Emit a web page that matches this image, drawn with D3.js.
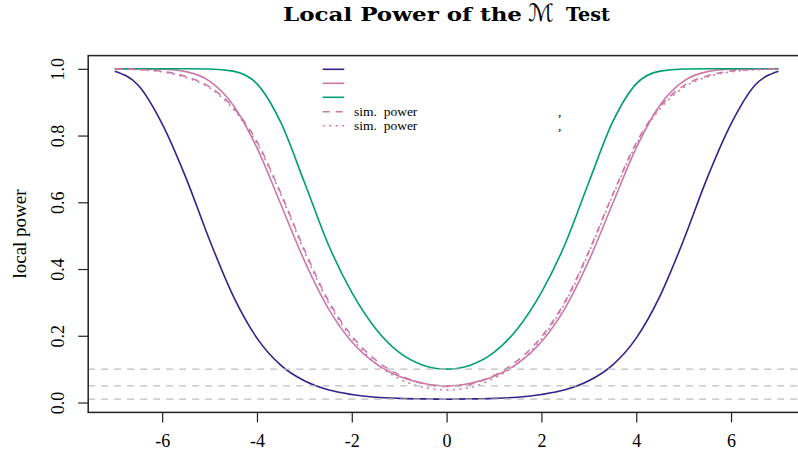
<!DOCTYPE html>
<html><head><meta charset="utf-8">
<script src="https://cdn.jsdelivr.net/npm/d3@7"></script>
<style>body{margin:0;background:#fff} svg{display:block}</style>
</head><body><svg id="c" width="798" height="452"></svg>
<script>
// ---------- data ----------
const xGrid = [-7, -6.5, -6, -5.5, -5, -4.5, -4, -3.5, -3, -2.5, -2, -1.5, -1, -0.5, 0,
               0.5, 1, 1.5, 2, 2.5, 3, 3.5, 4, 4.5, 5, 5.5, 6, 6.5, 7];
const powerLevel01 = [0.993, 0.950, 0.835, 0.674, 0.487, 0.319, 0.193, 0.112, 0.065, 0.038, 0.024, 0.016, 0.0125, 0.0108, 0.010,
                      0.0108, 0.0125, 0.016, 0.024, 0.038, 0.065, 0.112, 0.193, 0.319, 0.487, 0.674, 0.835, 0.950, 0.993];
const powerLevel05 = [1.000, 0.9999, 0.9988, 0.9916, 0.963, 0.891, 0.763, 0.595, 0.425, 0.283, 0.182, 0.117, 0.0785, 0.058, 0.050,
                      0.058, 0.0785, 0.117, 0.182, 0.283, 0.425, 0.595, 0.763, 0.891, 0.963, 0.9916, 0.9988, 0.9999, 1.000];
const powerLevel10 = [1.000, 1.000, 1.000, 1.000, 0.9995, 0.993, 0.955, 0.840, 0.660, 0.475, 0.330, 0.222, 0.150, 0.112, 0.100,
                      0.112, 0.150, 0.222, 0.330, 0.475, 0.660, 0.840, 0.955, 0.993, 0.9995, 1.000, 1.000, 1.000, 1.000];
const simPowerA = [1.000, 0.998, 0.992, 0.977, 0.946, 0.884, 0.782, 0.628, 0.458, 0.307, 0.200, 0.128, 0.083, 0.057, 0.048,
                   0.055, 0.081, 0.126, 0.197, 0.303, 0.453, 0.622, 0.778, 0.886, 0.949, 0.979, 0.993, 0.998, 1.000];
const simPowerB = [1.000, 0.997, 0.991, 0.974, 0.943, 0.879, 0.776, 0.624, 0.452, 0.301, 0.193, 0.119, 0.071, 0.046, 0.038,
                   0.045, 0.073, 0.117, 0.190, 0.298, 0.449, 0.619, 0.773, 0.880, 0.944, 0.976, 0.991, 0.997, 1.000];
const refLevels = [0.01, 0.05, 0.1];
const xTicks = [-6, -4, -2, 0, 2, 4, 6];
const yTicks = [0, 0.2, 0.4, 0.6, 0.8, 1.0];
const titleParts = ["Local Power of the", "\u2133", "Test"];
const yLabel = "local power";
const legendText = ["", "", "", "sim.\u00a0 power", "sim.\u00a0 power"];

// ---------- layout ----------
const svg = d3.select("#c");
const L = 88.2, R = 805, T = 55.6, B = 412.4;
const serif = "Liberation Serif, DejaVu Serif, serif";

const x = d3.scaleLinear().domain([-7.56, 7.56]).range([L, R]);
const y = d3.scaleLinear().domain([-0.0296, 1.0396]).range([B, T]);

const series = [
  {vals: powerLevel01, color: "#332288", dash: null},
  {vals: powerLevel05, color: "#CC79A7", dash: null},
  {vals: powerLevel10, color: "#009E73", dash: null},
  {vals: simPowerA, color: "#CC79A7", dash: "7,6"},
  {vals: simPowerB, color: "#CC79A7", dash: "2,4.5"}
];

const line = d3.line().x(d => x(d[0])).y(d => y(d[1])).curve(d3.curveMonotoneX);

series.forEach(s => {
  svg.append("path")
    .datum(xGrid.map((v, i) => [v, s.vals[i]]))
    .attr("d", line)
    .attr("fill", "none")
    .attr("stroke", s.color)
    .attr("stroke-width", 1.6)
    .attr("stroke-dasharray", s.dash);
});

// reference levels (drawn on top, like abline)
svg.selectAll("line.ref").data(refLevels).enter().append("line")
  .attr("class", "ref")
  .attr("x1", L).attr("x2", R)
  .attr("y1", d => y(d)).attr("y2", d => y(d))
  .attr("stroke", "#BEBEBE").attr("stroke-width", 1.3)
  .attr("stroke-dasharray", "7,6");

// frame
svg.append("rect").attr("x", L).attr("y", T).attr("width", R - L).attr("height", B - T)
  .attr("fill", "none").attr("stroke", "#222").attr("stroke-width", 1.5);

// x axis
const gx = svg.append("g").attr("transform", `translate(0,${B})`)
  .call(d3.axisBottom(x).tickValues(xTicks).tickSize(10).tickFormat(d3.format("d")));
gx.select(".domain").remove();
gx.attr("font-family", serif).attr("font-size", 18);
gx.selectAll("line").attr("stroke", "#222").attr("stroke-width", 1.2);
gx.selectAll("text").style("font-family", serif).attr("font-size", 18).attr("fill", "#000")
  .attr("y", 22).attr("dy", "0.71em").text(d => d < 0 ? "-" + Math.abs(d) : d);

// y axis
const gy = svg.append("g").attr("transform", `translate(${L},0)`)
  .call(d3.axisLeft(y).tickValues(yTicks).tickSize(10).tickFormat(d3.format(".1f")));
gy.select(".domain").remove();
gy.attr("font-family", serif).attr("font-size", 18);
gy.selectAll("line").attr("stroke", "#222").attr("stroke-width", 1.2);
gy.selectAll("text").style("font-family", serif).attr("font-size", 18).attr("fill", "#000")
  .attr("x", null).attr("dy", null).attr("text-anchor", "middle")
  .attr("transform", "translate(-24,0) rotate(-90)");

// y label
svg.append("text").attr("transform", `translate(26,${(T + B) / 2}) rotate(-90)`)
  .attr("text-anchor", "middle").style("font-family", serif).attr("font-size", 19)
  .text(yLabel);

// title
const tf = "DejaVu Serif, serif";
svg.append("text").attr("x", 283).attr("y", 21).style("font-family", tf).attr("font-weight", "bold")
  .attr("font-size", 19).attr("textLength", 239).attr("lengthAdjust", "spacingAndGlyphs").text(titleParts[0]);
svg.append("text").attr("x", 541).attr("y", 21).attr("text-anchor", "middle")
  .style("font-family", "DejaVu Sans, Noto Sans, serif").attr("font-size", 24).text(titleParts[1]);
svg.append("text").attr("x", 566).attr("y", 21).style("font-family", tf).attr("font-weight", "bold")
  .attr("font-size", 19).attr("textLength", 44).attr("lengthAdjust", "spacingAndGlyphs").text(titleParts[2]);

// legend
const legY = [69.3, 83.3, 97.3, 111.7, 125.7];
series.forEach((s, i) => {
  svg.append("line").attr("x1", 322.7).attr("x2", 344.3).attr("y1", legY[i]).attr("y2", legY[i])
    .attr("stroke", s.color).attr("stroke-width", 1.6).attr("stroke-dasharray", s.dash);
  if (legendText[i]) {
    svg.append("text").attr("x", 354).attr("y", legY[i] + 4.5).style("font-family", serif)
      .attr("font-size", 13.5).text(legendText[i]);
    svg.append("text").attr("x", 558).attr("y", legY[i] + 4.5).style("font-family", serif)
      .attr("font-size", 13.5).text(",");
  }
});
</script>
</body></html>
